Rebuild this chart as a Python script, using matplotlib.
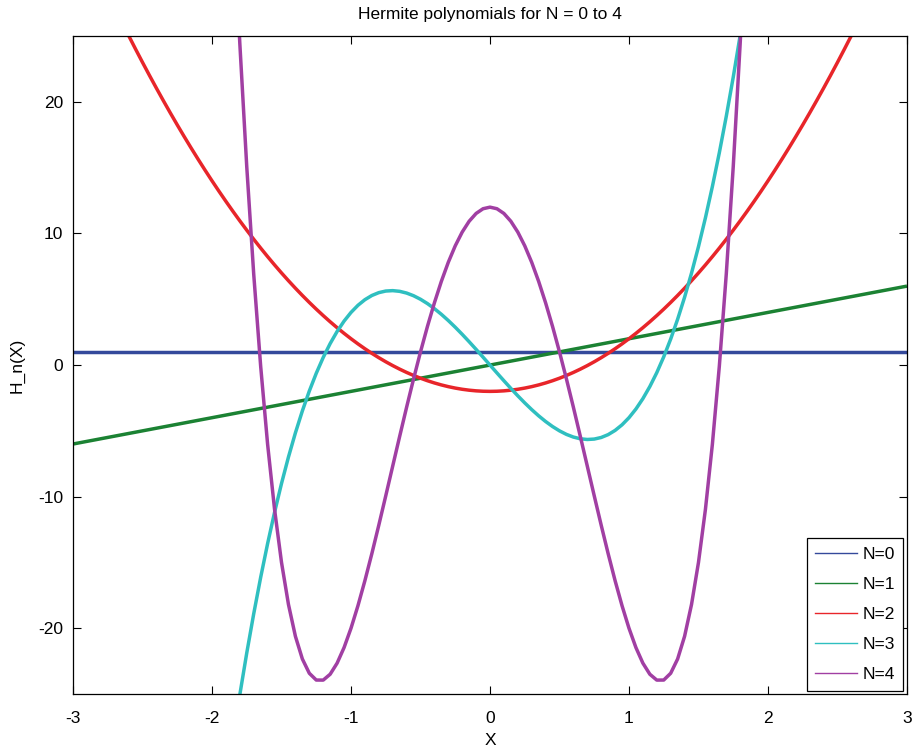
import matplotlib.pyplot as plt
from matplotlib.lines import Line2D
import numpy as np

plt.rcParams['font.family'] = ['Liberation Sans', 'DejaVu Sans']
plt.rcParams['axes.unicode_minus'] = False

# Physicists' Hermite polynomial coefficients, highest power first
orders = [0, 1, 2, 3, 4]
coeffs_h0 = [1]
coeffs_h1 = [2, 0]
coeffs_h2 = [4, 0, -2]
coeffs_h3 = [8, 0, -12, 0]
coeffs_h4 = [16, 0, -48, 0, 12]
line_colors = ['#34499b', '#1b8233', '#e8252a', '#2fbfc0', '#a13fa3']
legend_labels = ['N=0', 'N=1', 'N=2', 'N=3', 'N=4']

x = np.linspace(-3, 3, 121)

fig = plt.figure(figsize=(9.14, 7.52), dpi=100)
ax = fig.add_axes([0.0799, 0.0771, 0.9124, 0.8749])

all_coeffs = [coeffs_h0, coeffs_h1, coeffs_h2, coeffs_h3, coeffs_h4]
for n, c, col in zip(orders, all_coeffs, line_colors):
    y = np.polyval(c, x)
    ax.plot(x, y, color=col, linewidth=2.5, solid_capstyle='butt')

ax.set_xlim(-3, 3)
ax.set_ylim(-25, 25)
ax.set_xticks([-3, -2, -1, 0, 1, 2, 3])
ax.set_yticks([-20, -10, 0, 10, 20])
ax.tick_params(direction='in', top=True, right=True, length=6, width=0.8,
               labelsize=12.5)
ax.tick_params(axis='x', pad=12)
ax.tick_params(axis='y', pad=7)
for s in ax.spines.values():
    s.set_linewidth(0.9)

ax.set_title('Hermite polynomials for N = 0 to 4', fontsize=12.5, pad=12)
ax.set_xlabel('X', fontsize=12.5, labelpad=5)
ax.set_ylabel('H_n(X)', fontsize=12.5, labelpad=10)

handles = [Line2D([0], [0], color=col, linewidth=1.0) for col in line_colors]
leg = ax.legend(handles, legend_labels, loc='lower right', fontsize=12.5,
                fancybox=False, edgecolor='black', framealpha=1,
                handlelength=2.4, borderaxespad=0.2, labelspacing=0.85,
                handletextpad=0.3, borderpad=0.5)
leg.get_frame().set_linewidth(0.9)

fig.savefig('out.png', dpi=100)
